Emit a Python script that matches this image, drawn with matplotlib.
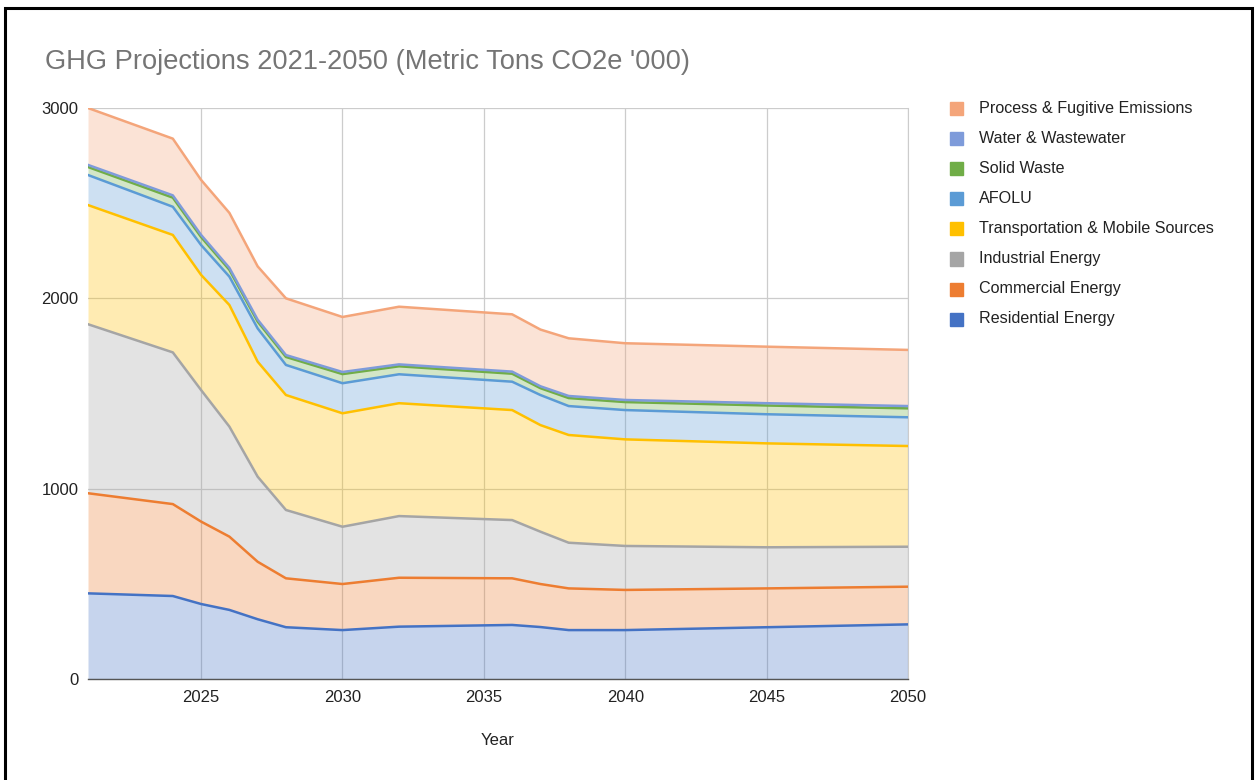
import numpy as np
import matplotlib
matplotlib.use("Agg")
import matplotlib.pyplot as plt
from matplotlib.patches import Rectangle

plt.rcParams['font.family'] = ['Liberation Sans', 'DejaVu Sans']

years = [2021, 2024, 2025, 2026, 2027, 2028, 2030, 2032, 2036, 2037, 2038, 2040, 2045, 2050]

residential = [450, 436, 394, 363, 314, 272, 257, 275, 284, 273, 257, 257, 272, 287]
commercial = [526, 483, 433, 385, 302, 257, 242, 257, 245, 226, 219, 211, 204, 198]
industrial = [888, 797, 691, 578, 447, 359, 301, 324, 306, 275, 240, 231, 216, 210]
transportation = [626, 617, 605, 639, 604, 604, 596, 593, 578, 560, 566, 560, 546, 529]
afolu = [158, 148, 157, 149, 175, 158, 158, 152, 149, 158, 152, 154, 153, 151]
solid_waste = [42, 48, 42, 36, 36, 42, 48, 42, 42, 36, 42, 42, 46, 47]
water = [11, 12, 11, 10, 10, 10, 11, 10, 11, 10, 11, 11, 12, 12]
process = [299, 298, 289, 289, 280, 298, 289, 303, 301, 298, 303, 298, 297, 295]

series_names = ["Residential Energy", "Commercial Energy", "Industrial Energy",
                "Transportation & Mobile Sources", "AFOLU", "Solid Waste",
                "Water & Wastewater", "Process & Fugitive Emissions"]
series_values = [residential, commercial, industrial, transportation, afolu,
                 solid_waste, water, process]
colors = ["#4472C4", "#ED7D31", "#A5A5A5", "#FFC000", "#5B9BD5", "#70AD47",
          "#7E9BDA", "#F4A57A"]

title = "GHG Projections 2021-2050 (Metric Tons CO2e '000)"
x_label = "Year"
x_ticks = [2025, 2030, 2035, 2040, 2045, 2050]
y_ticks = [0, 1000, 2000, 3000]

W, H = 1257, 780
fig = plt.figure(figsize=(W / 100, H / 100), dpi=100)
ax = fig.add_axes([88 / W, 1 - 679 / H, 820 / W, 571 / H])

x = np.array(years)
vals = np.array(series_values, dtype=float)
cum = np.cumsum(vals, axis=0)
lower = np.vstack([np.zeros(len(years)), cum[:-1]])

for i in range(len(series_names)):
    ax.fill_between(x, lower[i], cum[i], color=colors[i], alpha=0.3, lw=0, zorder=2)
for i in range(len(series_names)):
    ax.plot(x, cum[i], color=colors[i], lw=1.8, zorder=3, solid_joinstyle='round')

ax.set_xlim(2021, 2050)
ax.set_ylim(0, 3000)
ax.set_xticks(x_ticks)
ax.set_yticks(y_ticks)
ax.grid(True, color="#cccccc", lw=0.9, zorder=1)
ax.set_axisbelow(True)
for s in ["top", "left"]:
    ax.spines[s].set_visible(False)
ax.spines["right"].set_color("#cccccc")
ax.spines["bottom"].set_color("#555555")
ax.spines["bottom"].set_linewidth(1.0)
ax.tick_params(length=0, labelsize=12, colors="#222222", pad=8)
ax.tick_params(axis='y', pad=7)
ax.set_xlabel(x_label, fontsize=12, color="#222222", labelpad=20)

fig.text(45 / W, 1 - 62 / H, title, fontsize=19.6, color="#757575", va="center", ha="left")

# legend (top entry = last series)
for k, i in enumerate(range(len(series_names) - 1, -1, -1)):
    yc = 108 + 30.1 * k
    fig.patches.append(Rectangle((950 / W, 1 - (yc + 7) / H), 13 / W, 13 / H,
                                 transform=fig.transFigure, color=colors[i]))
    fig.text(979 / W, 1 - yc / H, series_names[i], fontsize=11.6, color="#222222",
             va="center", ha="left")

# outer black frame
fig.patches.append(Rectangle((5 / W, -0.01), 1247 / W, 1 - 8 / H + 0.01,
                             transform=fig.transFigure, fill=False, ec="black", lw=2.2))

fig.savefig("out.png", dpi=100)
